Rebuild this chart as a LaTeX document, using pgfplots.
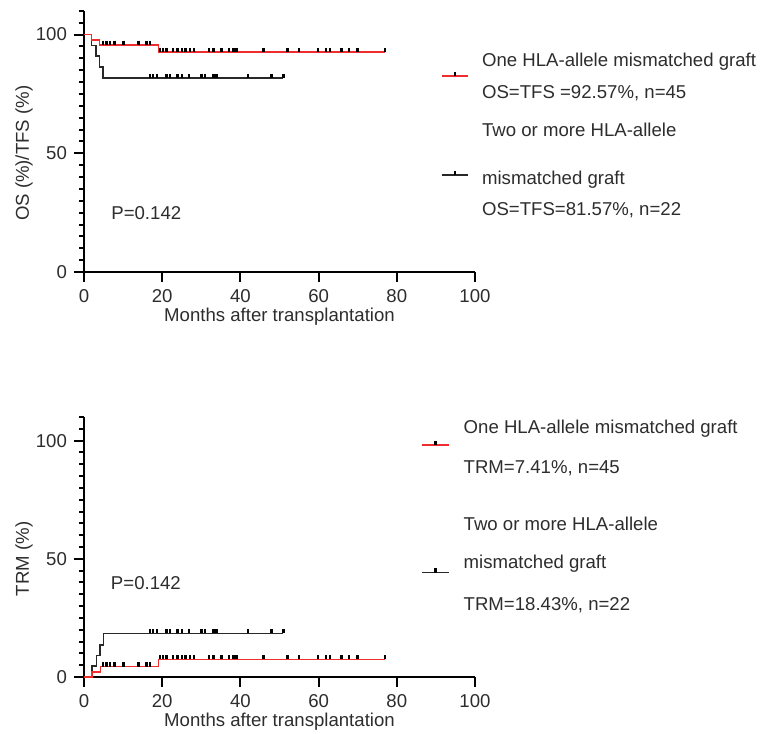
\documentclass[border=0pt]{standalone}
\usepackage{fontspec}
\setmainfont{Liberation Sans}
\usepackage{pgfplots}
\pgfplotsset{compat=1.18}

\definecolor{kmred}{RGB}{240,45,45}
\definecolor{kmdark}{RGB}{40,40,40}
\definecolor{txt}{RGB}{45,45,45}

\newcommand{\fs}{\fontsize{9.3}{10.5}\selectfont}

\pgfplotsset{
  km/.style={
    scale only axis,
    width=195.5pt,
    xmin=0, xmax=100, ymin=0, ymax=110,
    axis lines=left,
    axis line style={-, line width=1pt, black},
    xtick={0,20,...,100},
    ytick={0,50,100},
    tick align=outside,
    major tick length=5pt,
    every tick/.append style={black, line width=1pt},
    /pgf/number format/assume math mode=true,
    tick label style={font=\fs, text=txt},
    label style={font=\fs, text=txt},
    xlabel={Months after transplantation},
    xlabel style={at={(axis description cs:0.5,-0.172)}, anchor=center},
    ylabel style={at={(axis description cs:-0.1535,0.4545)}, anchor=center},
    clip=false,
  },
  tk/.style={-, black, line width=1pt, forget plot},
  cens/.style={only marks, mark=|, mark size=1.1pt,
    mark options={line width=1.2pt, black, yshift=1.1pt}},
}

% tick strokes drawn in axis units (x: 9px down, y: 10px / 5px left)
\newcommand{\ticks}{%
  \addplot[tk, quiver={u=0, v=-3.8}] coordinates {
    (0,0) (20,0) (40,0) (60,0) (80,0) (100,0)};
  \addplot[tk, quiver={u=-2.56, v=0}] coordinates {(0,0) (0,50) (0,100)};
  \addplot[tk, quiver={u=-1.28, v=0}] coordinates {
    (0,5) (0,10) (0,15) (0,20) (0,25) (0,30) (0,35) (0,40) (0,45)
    (0,55) (0,60) (0,65) (0,70) (0,75) (0,80) (0,85) (0,90) (0,95)
    (0,105) (0,110)};
}

\begin{document}
\begin{tikzpicture}
\path[use as bounding box] (0,0) rectangle (380.5pt,367pt);

% OS / TFS
\begin{axis}[km, at={(42pt,231pt)}, anchor=south west, height=130.6pt,
  ylabel={OS (\%)/TFS (\%)}]
  \ticks
  \addplot[const plot, kmdark, line width=0.75pt] coordinates {
    (0,100) (1.9,95.45) (3.1,90.91) (4.0,86.36) (4.9,81.6) (51,81.6)};
  \addplot[const plot, kmred, line width=0.75pt] coordinates {
    (0,100) (1.9,97.78) (4.0,95.56) (19,92.57) (77,92.57)};
  \addplot[cens] coordinates {
    (16.9,81.6) (17.7,81.6) (18.7,81.6) (21.1,81.6) (22.0,81.6) (23.9,81.6)
    (25.0,81.6) (26.9,81.6) (30.1,81.6) (30.9,81.6) (33.1,81.6) (33.9,81.6)
    (42.0,81.6) (48.0,81.6) (51.0,81.6)};
  \addplot[cens] coordinates {
    (4.9,95.56) (5.8,95.56) (6.6,95.56) (7.8,95.56) (10.1,95.56) (13.9,95.56)
    (16.0,95.56) (16.9,95.56)
    (19.4,92.57) (20.2,92.57) (21.1,92.57) (22.8,92.57) (23.9,92.57) (25.0,92.57)
    (26.0,92.57) (27.1,92.57) (28.1,92.57) (32.0,92.57) (33.1,92.57) (35.2,92.57)
    (37.1,92.57) (38.2,92.57) (39.0,92.57) (45.9,92.57) (52.0,92.57) (55.0,92.57)
    (59.9,92.57) (61.9,92.57) (62.9,92.57) (65.9,92.57) (67.8,92.57) (69.9,92.57)
    (77.0,92.57)};
  \node[anchor=west, font=\fs, text=txt, inner sep=0pt] at (axis cs:6.9,24.8) {P=0.142};
\end{axis}

% TRM
\begin{axis}[km, at={(42pt,28.5pt)}, anchor=south west, height=130pt,
  ylabel={TRM (\%)}]
  \ticks
  \addplot[const plot, kmdark, line width=0.75pt] coordinates {
    (0,0) (2.0,4.55) (3.2,9.09) (4.1,13.64) (5.0,18.43) (51,18.43)};
  \addplot[const plot, kmred, line width=0.75pt] coordinates {
    (0,0) (2.0,2.22) (4.2,4.44) (19,7.41) (77,7.41)};
  \addplot[cens] coordinates {
    (16.9,18.43) (17.7,18.43) (18.7,18.43) (21.1,18.43) (22.0,18.43) (23.9,18.43)
    (25.0,18.43) (26.9,18.43) (30.1,18.43) (30.9,18.43) (33.1,18.43) (33.9,18.43)
    (42.0,18.43) (48.0,18.43) (51.0,18.43)};
  \addplot[cens] coordinates {
    (4.9,4.44) (5.8,4.44) (6.6,4.44) (7.8,4.44) (10.1,4.44) (13.9,4.44)
    (16.0,4.44) (16.9,4.44)
    (19.4,7.41) (20.2,7.41) (21.1,7.41) (22.8,7.41) (23.9,7.41) (25.0,7.41)
    (26.0,7.41) (27.1,7.41) (28.1,7.41) (32.0,7.41) (33.1,7.41) (35.2,7.41)
    (37.1,7.41) (38.2,7.41) (39.0,7.41) (45.9,7.41) (52.0,7.41) (55.0,7.41)
    (59.9,7.41) (61.9,7.41) (62.9,7.41) (65.9,7.41) (67.8,7.41) (69.9,7.41)
    (77.0,7.41)};
  \node[anchor=west, font=\fs, text=txt, inner sep=0pt] at (axis cs:6.8,39.6) {P=0.142};
\end{axis}

% legends
\begin{scope}[every node/.style={anchor=west, font=\fs, text=txt, inner sep=0pt}]
  \draw[kmred, line width=0.75pt] (220.85pt,329pt) -- (234.15pt,329pt);
  \draw[black, line width=1.2pt] (227.5pt,329pt) -- (227.5pt,331.2pt);
  \draw[kmdark, line width=0.75pt] (220.85pt,279.5pt) -- (234.15pt,279.5pt);
  \draw[black, line width=1.2pt] (227.5pt,279.5pt) -- (227.5pt,281.7pt);
  \node at (240.85pt,336.15pt) {One HLA-allele mismatched graft};
  \node at (240.85pt,320.35pt) {OS=TFS =92.57\%, n=45};
  \node at (240.85pt,302pt) {Two or more HLA-allele};
  \node at (240.85pt,277pt) {mismatched graft};
  \node at (240.85pt,262pt) {OS=TFS=81.57\%, n=22};

  \draw[kmred, line width=0.75pt] (210.85pt,144.5pt) -- (224.65pt,144.5pt);
  \draw[black, line width=1.2pt] (217.75pt,144.5pt) -- (217.75pt,146.7pt);
  \draw[kmdark, line width=0.75pt] (210.85pt,80.65pt) -- (224.65pt,80.65pt);
  \draw[black, line width=1.2pt] (217.75pt,80.65pt) -- (217.75pt,82.85pt);
  \node at (231.65pt,152.85pt) {One HLA-allele mismatched graft};
  \node at (231.65pt,132.85pt) {TRM=7.41\%, n=45};
  \node at (231.65pt,105pt) {Two or more HLA-allele};
  \node at (231.65pt,85pt) {mismatched graft};
  \node at (231.65pt,64.5pt) {TRM=18.43\%, n=22};
\end{scope}
\end{tikzpicture}
\end{document}
